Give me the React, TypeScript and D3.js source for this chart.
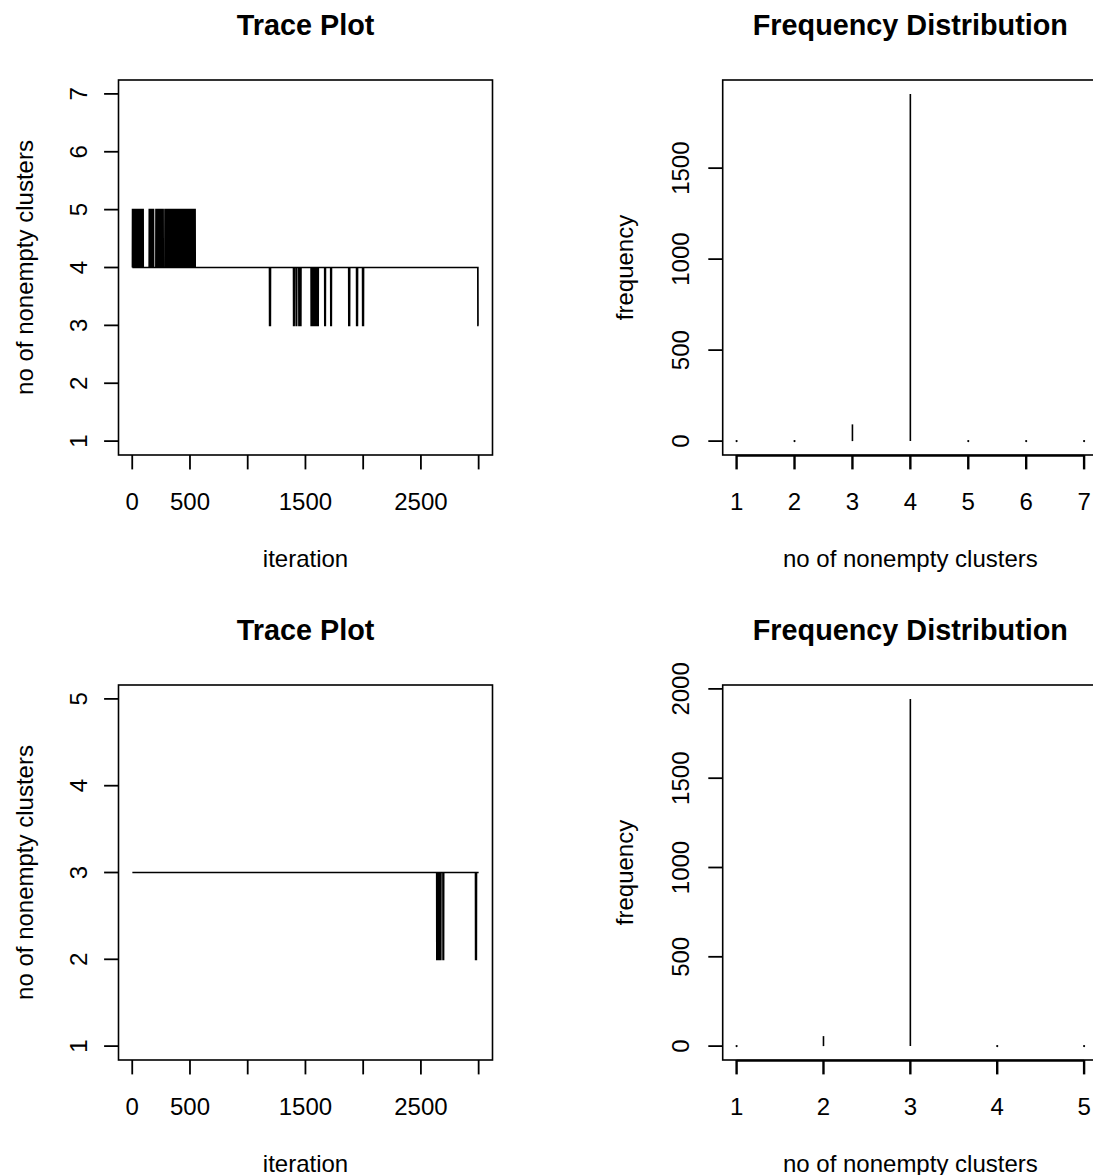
import React from 'react';
import * as d3 from 'd3';

// ---------- data ----------
const N_ITER = 3000;
const xTicks = [0, 500, 1000, 1500, 2000, 2500, 3000];
const xTickLabels = ['0', '500', '', '1500', '', '2500', ''];

// chain 1: base value 4, runs at other values [start, end, value]
const trace1Base = 4;
const trace1Runs: [number, number, number][] = [
  [3, 8, 5], [15, 22, 5], [29, 36, 5], [43, 50, 5], [57, 64, 5], [71, 78, 5], [85, 94, 5],
  [148, 153, 5], [160, 166, 5], [173, 184, 5],
  [206, 212, 5], [219, 226, 5], [233, 240, 5], [247, 254, 5], [261, 267, 5],
  [284, 290, 5], [297, 304, 5], [311, 318, 5], [325, 332, 5],
  [342, 348, 5], [355, 362, 5], [369, 376, 5], [383, 390, 5], [397, 404, 5], [411, 418, 5],
  [425, 432, 5], [439, 446, 5], [453, 460, 5], [467, 474, 5], [481, 488, 5], [495, 502, 5],
  [509, 516, 5], [523, 530, 5], [537, 544, 5],
  [1190, 1196, 3], [1398, 1402, 3], [1420, 1424, 3], [1444, 1448, 3], [1456, 1460, 3],
  [1550, 1556, 3], [1563, 1570, 3], [1577, 1584, 3], [1591, 1598, 3], [1604, 1610, 3],
  [1668, 1672, 3], [1720, 1724, 3], [1876, 1882, 3], [1944, 1950, 3], [1996, 2002, 3],
  [2994, 3000, 3],
];
const trace1YTicks = [1, 2, 3, 4, 5, 6, 7];
const freq1Categories = [1, 2, 3, 4, 5, 6, 7];
const freq1Counts = [0, 0, 92, 1908, 0, 0, 0];
const freq1YTicks = [0, 500, 1000, 1500];

// chain 2: base value 3
const trace2Base = 3;
const trace2Runs: [number, number, number][] = [
  [2638, 2644, 2], [2650, 2656, 2], [2660, 2666, 2], [2668, 2672, 2], [2692, 2696, 2], [2974, 2980, 2],
];
const trace2YTicks = [1, 2, 3, 4, 5];
const freq2Categories = [1, 2, 3, 4, 5];
const freq2Counts = [0, 56, 1944, 0, 0];
const freq2YTicks = [0, 500, 1000, 1500, 2000];

// ---------- helpers ----------
const FONT = '"Liberation Sans", Arial, Helvetica, sans-serif';
const W = 1093;
const H = 1175;

function buildSeries(base: number, runs: [number, number, number][]) {
  const out: [number, number][] = [];
  for (let i = 1; i <= N_ITER; i++) {
    let v = base;
    for (const r of runs) if (i >= r[0] && i <= r[1]) v = r[2];
    out.push([i, v]);
  }
  return out;
}

function ext(lo: number, hi: number): [number, number] {
  const d = (hi - lo) * 0.04;
  return [lo - d, hi + d];
}

interface Frame {
  left: number; right: number; top: number; bottom: number;
  titleY: number; tickLabY: number; xTitleY: number;
  yTickLabX: number; yTitleX: number;
}

const Axes: React.FC<{
  f: Frame; title: string; xTitle: string; yTitle: string;
  x: (v: number) => number; y: (v: number) => number;
  xt: number[]; xtl: string[]; yt: number[]; axisLine?: boolean;
}> = ({ f, title, xTitle, yTitle, x, y, xt, xtl, yt, axisLine }) => {
  const cx = (f.left + f.right) / 2;
  const cy = (f.top + f.bottom) / 2;
  return (
    <g>
      <rect x={f.left} y={f.top} width={f.right - f.left} height={f.bottom - f.top}
        fill="none" stroke="#000" strokeWidth={1.6} />
      {axisLine && (
        <line x1={x(xt[0])} x2={x(xt[xt.length - 1])} y1={f.bottom + 0.8} y2={f.bottom + 0.8}
          stroke="#000" strokeWidth={2} />
      )}
      {xt.map((t, i) => (
        <g key={'xt' + i}>
          <line x1={x(t)} x2={x(t)} y1={f.bottom} y2={f.bottom + 14.4}
            stroke="#000" strokeWidth={axisLine ? 2.4 : 1.8} />
          {xtl[i] !== '' && (
            <text x={x(t)} y={f.tickLabY} textAnchor="middle" dominantBaseline="central"
              fontSize={24} fontFamily={FONT}>{xtl[i]}</text>
          )}
        </g>
      ))}
      {yt.map((t, i) => (
        <g key={'yt' + i}>
          <line x1={f.left - 14.4} x2={f.left} y1={y(t)} y2={y(t)} stroke="#000" strokeWidth={1.8} />
          <text transform={`translate(${f.yTickLabX},${y(t)}) rotate(-90)`} textAnchor="middle"
            dominantBaseline="central" fontSize={24} fontFamily={FONT}>{String(t)}</text>
        </g>
      ))}
      <text x={cx} y={f.titleY} textAnchor="middle" dominantBaseline="central"
        fontSize={28.8} fontWeight="bold" fontFamily={FONT}>{title}</text>
      <text x={cx} y={f.xTitleY} textAnchor="middle" dominantBaseline="central"
        fontSize={24} fontFamily={FONT}>{xTitle}</text>
      <text transform={`translate(${f.yTitleX},${cy}) rotate(-90)`} textAnchor="middle"
        dominantBaseline="central" fontSize={24} fontFamily={FONT}>{yTitle}</text>
    </g>
  );
};

const TracePanel: React.FC<{ f: Frame; base: number; runs: [number, number, number][]; yTicks: number[] }> =
  ({ f, base, runs, yTicks }) => {
    const x = d3.scaleLinear().domain(ext(1, N_ITER)).range([f.left, f.right]);
    const y = d3.scaleLinear().domain(ext(yTicks[0], yTicks[yTicks.length - 1])).range([f.bottom, f.top]);
    const series = buildSeries(base, runs);
    const path = d3.line<[number, number]>().x(d => x(d[0])).y(d => y(d[1]))(series) || '';
    return (
      <g>
        <path d={path} fill="none" stroke="#000" strokeWidth={1.7} />
        <Axes f={f} title="Trace Plot" xTitle="iteration" yTitle="no of nonempty clusters"
          x={x} y={y} xt={xTicks} xtl={xTickLabels} yt={yTicks} />
      </g>
    );
  };

const FreqPanel: React.FC<{ f: Frame; cats: number[]; counts: number[]; yTicks: number[] }> =
  ({ f, cats, counts, yTicks }) => {
    const x = d3.scaleLinear().domain(ext(cats[0], cats[cats.length - 1])).range([f.left, f.right]);
    const y = d3.scaleLinear().domain(ext(0, d3.max(counts) as number)).range([f.bottom, f.top]);
    return (
      <g>
        {cats.map((c, i) => counts[i] > 0 ? (
          <line key={i} x1={x(c)} x2={x(c)} y1={y(0)} y2={y(counts[i])} stroke="#000" strokeWidth={1.6} />
        ) : (
          <circle key={i} cx={x(c)} cy={y(0)} r={1.1} fill="#000" />
        ))}
        <Axes f={f} title="Frequency Distribution" xTitle="no of nonempty clusters" yTitle="frequency"
          x={x} y={y} xt={cats} xtl={cats.map(String)} yt={yTicks} axisLine />
      </g>
    );
  };

const rowOffset = 605;
const leftCol = { left: 118.5, right: 492.5, yTickLabX: 78, yTitleX: 24 };
const rightCol = { left: 722.7, right: 1098, yTickLabX: 680, yTitleX: 624 };
const row = (k: number) => ({
  top: 80 + k * rowOffset, bottom: 455 + k * rowOffset,
  titleY: 25 + k * rowOffset, tickLabY: 501 + k * rowOffset, xTitleY: 558 + k * rowOffset,
});

export default function App() {
  return (
    <svg width={W} height={H} viewBox={`0 0 ${W} ${H}`}
      style={{ position: 'absolute', left: 0, top: 0, background: '#fff' }}>
      <rect x={0} y={0} width={W} height={H} fill="#fff" />
      <TracePanel f={{ ...leftCol, ...row(0) }} base={trace1Base} runs={trace1Runs} yTicks={trace1YTicks} />
      <FreqPanel f={{ ...rightCol, ...row(0) }} cats={freq1Categories} counts={freq1Counts} yTicks={freq1YTicks} />
      <TracePanel f={{ ...leftCol, ...row(1) }} base={trace2Base} runs={trace2Runs} yTicks={trace2YTicks} />
      <FreqPanel f={{ ...rightCol, ...row(1) }} cats={freq2Categories} counts={freq2Counts} yTicks={freq2YTicks} />
    </svg>
  );
}
